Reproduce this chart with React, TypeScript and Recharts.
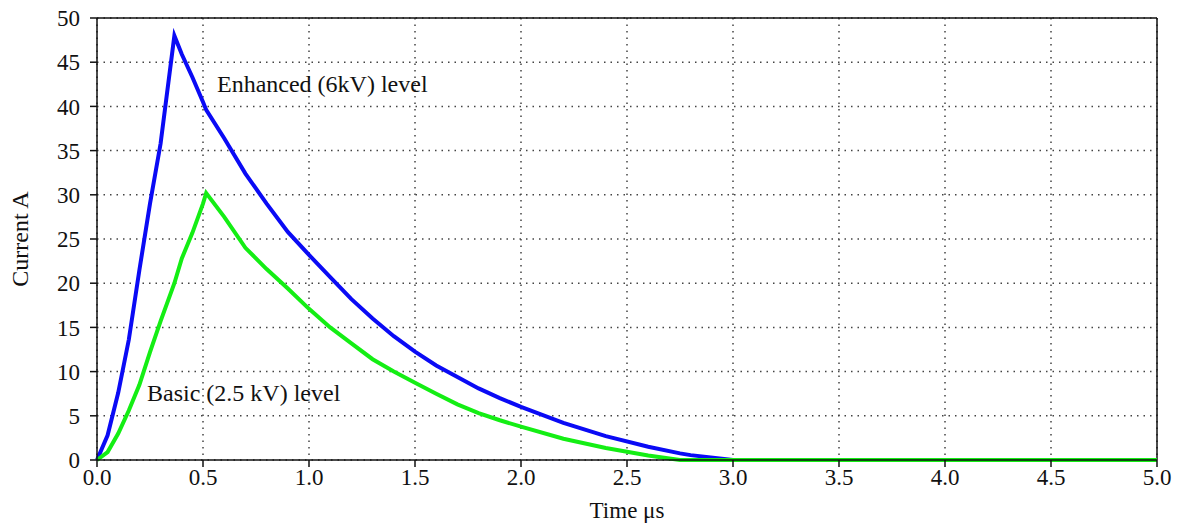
import React from 'react'
import {
  LineChart,
  Line,
  XAxis,
  YAxis,
  CartesianGrid,
  ReferenceLine,
  ReferenceDot,
} from 'recharts'

// time in microseconds, shared by both waveforms
const timeUs = [
  0, 0.05, 0.1, 0.15, 0.2, 0.25, 0.3, 0.365, 0.4, 0.45, 0.5, 0.515, 0.6, 0.7,
  0.8, 0.9, 1.0, 1.1, 1.2, 1.3, 1.4, 1.5, 1.6, 1.7, 1.8, 1.9, 2.0, 2.2, 2.4,
  2.6, 2.75, 2.8, 3.0, 3.5, 4.0, 4.5, 5.0,
]

// Enhanced (6kV) level, current in A
const enhancedA = [
  0, 2.8, 7.6, 13.6, 21.5, 29.0, 35.8, 48.0, 45.9, 43.3, 40.5, 39.6, 36.4,
  32.4, 29.0, 25.8, 23.2, 20.7, 18.2, 16.0, 14.0, 12.25, 10.7, 9.4, 8.1, 7.0,
  6.0, 4.2, 2.7, 1.5, 0.75, 0.55, 0, 0, 0, 0, 0,
]

// Basic (2.5 kV) level, current in A
const basicA = [
  0, 0.9, 3.0, 5.6, 8.5, 12.2, 15.7, 20.0, 22.8, 25.7, 29.0, 30.2, 27.5, 24.0,
  21.6, 19.4, 17.1, 15.0, 13.2, 11.4, 10.0, 8.75, 7.5, 6.3, 5.3, 4.5, 3.77,
  2.4, 1.35, 0.5, 0, 0, 0, 0, 0, 0, 0,
]

const xTicks = [0, 0.5, 1, 1.5, 2, 2.5, 3, 3.5, 4, 4.5, 5]
const yTicks = [0, 5, 10, 15, 20, 25, 30, 35, 40, 45, 50]

const data = timeUs.map((t, i) => ({
  t,
  enhanced: enhancedA[i],
  basic: basicA[i],
}))

const font = '"Liberation Serif", "Times New Roman", serif'
const tickStyle = { fontFamily: font, fontSize: 23, fill: '#111' }

const note = (text: string) => (props: any) =>
  (
    <text
      x={props.cx}
      y={props.cy}
      fontFamily={font}
      fontSize={24}
      fill="#111"
      dominantBaseline="central"
    >
      {text}
    </text>
  )

export default function App() {
  return (
    <div style={{ position: 'absolute', left: 0, top: 0, background: '#fff' }}>
      <LineChart
        width={1179}
        height={527}
        data={data}
        margin={{ top: 18, right: 22, bottom: 0, left: 0 }}
      >
        <CartesianGrid
          stroke="#444"
          strokeWidth={1.5}
          strokeDasharray="1.5 5"
        />
        <XAxis
          dataKey="t"
          type="number"
          domain={[0, 5]}
          ticks={xTicks}
          tickFormatter={(v: number) => v.toFixed(1)}
          tick={tickStyle}
          tickSize={7}
          height={67}
          stroke="#111"
          axisLine={{ stroke: '#111', strokeWidth: 1.5 }}
          tickLine={{ stroke: '#111', strokeWidth: 1.5 }}
          label={{
            value: 'Time μs',
            position: 'insideBottom',
            offset: 9,
            style: { fontFamily: font, fontSize: 23, fill: '#111' },
          }}
        />
        <YAxis
          type="number"
          domain={[0, 50]}
          ticks={yTicks}
          tick={tickStyle}
          tickSize={7}
          tickMargin={10}
          width={97}
          stroke="#111"
          axisLine={{ stroke: '#111', strokeWidth: 1.5 }}
          tickLine={{ stroke: '#111', strokeWidth: 1.5 }}
          label={{
            content: () => (
              <text
                transform="translate(20,239) rotate(-90)"
                textAnchor="middle"
                dominantBaseline="central"
                fontFamily={font}
                fontSize={24}
                fill="#111"
              >
                Current A
              </text>
            ),
          }}
        />
        <ReferenceLine y={50} stroke="#111" strokeWidth={1.5} />
        <ReferenceLine x={5} stroke="#111" strokeWidth={1.5} />
        <Line
          dataKey="enhanced"
          type="linear"
          stroke="#0a0af5"
          strokeWidth={4}
          dot={false}
          isAnimationActive={false}
        />
        <Line
          dataKey="basic"
          type="linear"
          stroke="#14ee14"
          strokeWidth={4}
          dot={false}
          isAnimationActive={false}
        />
        <ReferenceDot
          x={0.566}
          y={42.5}
          r={0}
          shape={note('Enhanced (6kV) level')}
        />
        <ReferenceDot
          x={0.236}
          y={7.6}
          r={0}
          shape={note('Basic (2.5 kV) level')}
        />
      </LineChart>
    </div>
  )
}
